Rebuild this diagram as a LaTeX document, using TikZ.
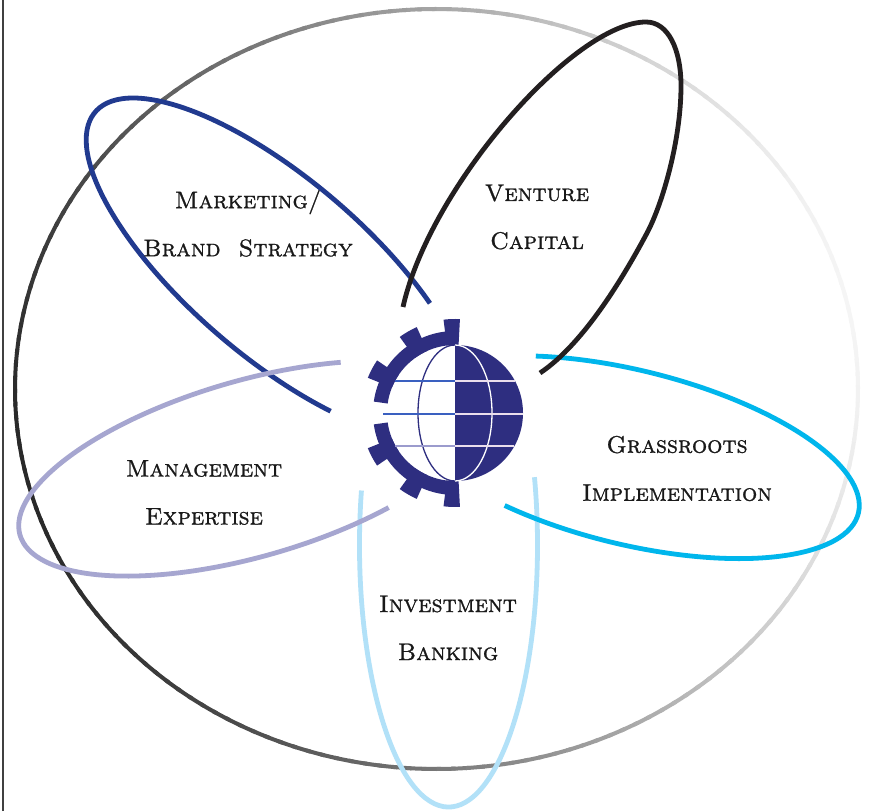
\documentclass[tikz,border=0pt]{standalone}
\usepackage{fontspec}
\usepackage{tikz}
\newfontfamily\areafont{lmromancaps10-regular.otf}[FakeBold=1]

\definecolor{mktblue}{RGB}{33,58,143}
\definecolor{vcblack}{RGB}{35,31,32}
\definecolor{mgmtlav}{RGB}{166,166,208}
\definecolor{invblue}{RGB}{178,225,248}
\definecolor{grasscyan}{RGB}{0,182,236}
\definecolor{logoblue}{RGB}{46,46,128}
\definecolor{gridblue}{RGB}{58,96,192}
\definecolor{gridlav}{RGB}{155,155,205}
\definecolor{gridpale}{RGB}{234,222,236}

\begin{document}
\begin{tikzpicture}[x=1pt,y=1pt,
                    petal/.style={line width=4.8pt},
                    gridline/.style={line width=1.3pt}]
  \tikzstyle{area}=[align=center,text=black!90,font=\fontsize{24}{48}\areafont]

  \fill[white] (0,0) rectangle (869,811);
  \useasboundingbox (0,0) rectangle (869,811);
  \draw[line width=2pt,black!75] (3,0) -- (3,811);

  % outer ring, dark at lower left, fading out to the right
  \begin{scope}[shift={(436.5,422)}]
    \foreach \t in {0,2,...,358}{
      \pgfmathsetmacro\k{44-40*cos(\t-12)}
      \draw[line width=4pt,black!\k] (\t:421.5pt and 380pt) arc[start angle=\t,end angle=\t+2.6,x radius=421.5pt,y radius=380pt];
    }
  \end{scope}

  % petals
  \begin{scope}[shift={(448.5,266)},rotate=-90]
    \draw[petal,invblue] (-102:262pt and 89pt) arc[start angle=-102,end angle=105,x radius=262pt,y radius=89pt];
  \end{scope}
  \begin{scope}[shift={(277.4,542.8)},rotate=139.4]
    \draw[petal,mktblue] (-125.3:240pt and 89pt) arc[start angle=-125.3,end angle=123.8,x radius=240pt,y radius=89pt];
  \end{scope}
  \begin{scope}[shift={(250.6,342.5)},rotate=196.1]
    \draw[petal,mgmtlav] (-118.9:240pt and 88pt) arc[start angle=-118.9,end angle=120.5,x radius=240pt,y radius=88pt];
  \end{scope}
  \begin{scope}[shift={(630.1,353.8)},rotate=-13.8]
    \draw[petal,grasscyan] (-118:235pt and 87pt) arc[start angle=-118,end angle=119.5,x radius=235pt,y radius=87pt];
  \end{scope}
  \draw[petal,vcblack] (403,504) .. controls (430,625) and (575,789) .. (646,789)
                                 .. controls (668,789) and (681,762) .. (681,725)
                                 .. controls (681,670) and (662,606) .. (647,578)
                                 .. controls (625.9,538.4) and (585,468) .. (540,438);

  \node[area] (mkt)   at (248,587.5) {Marketing/\\Brand\ \ Strategy};
  \node[area] (vc)    at (537,594)   {Venture\\Capital};
  \node[area] (grass) at (677,342.5) {Grassroots\\Implementation};
  \node[area] (mgmt)  at (204,318.5) {Management\\Expertise};
  \node[area] (inv)   at (448,183)   {Investment\\Banking};

  % logo: half gear and globe
  \coordinate (G) at (455,398);
  \foreach \a/\b/\ro in {90/172/82,188/270/82,87/97/94,114/126/94,146/158/94,202/214/94,234/246/94,263/273/94}
    \fill[logoblue] ([shift={(\a:\ro pt)}]G) arc[start angle=\a,end angle=\b,radius=\ro pt] -- ([shift={(\b:68pt)}]G) arc[start angle=\b,end angle=\a,radius=68pt] -- cycle;
  \fill[logoblue] ([shift={(-90:68pt)}]G) arc[start angle=-90,end angle=90,radius=68pt] -- cycle;
  \draw[logoblue,line width=1.3pt] ([shift={(90:68pt)}]G) arc[start angle=90,end angle=270,x radius=37pt,y radius=68pt];
  \draw[white,line width=1.3pt] ([shift={(-90:68pt)}]G) arc[start angle=-90,end angle=90,x radius=37pt,y radius=68pt];
  \draw[gridline,gridblue] ([shift={(-60,32)}]G) -- ++(60,0);
  \draw[gridline,gridblue] ([shift={(-72,-1)}]G) -- ++(72,0);
  \draw[gridline,gridlav]  ([shift={(-60,-33)}]G) -- ++(60,0);
  \draw[gridline,gridpale] ([shift={(0,32)}]G) -- ++(60,0);
  \draw[gridline,gridpale] ([shift={(0,-1)}]G) -- ++(68,0);
  \draw[gridline,gridpale] ([shift={(0,-33)}]G) -- ++(59,0);
\end{tikzpicture}
\end{document}
